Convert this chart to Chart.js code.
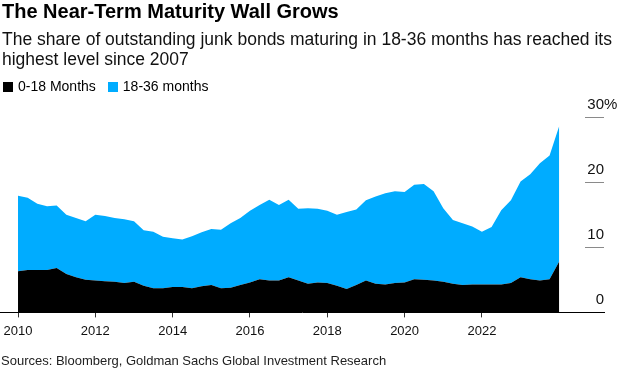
<!DOCTYPE html>
<html>
<head>
<meta charset="utf-8">
<script src="https://cdn.jsdelivr.net/npm/chart.js@4/dist/chart.umd.min.js"></script>
<style>
  html, body { margin: 0; padding: 0; background: #fff; }
  body { width: 619px; height: 370px; position: relative; overflow: hidden; font-family: "Liberation Sans", Arial, sans-serif; color: #000; }
  #wrap { position: absolute; left: 0; top: 0; width: 619px; height: 370px; }
  .txt { position: absolute; white-space: nowrap; }
  #title { left: 2px; top: 0px; font-size: 20px; font-weight: bold; }
  #sub { left: 2px; top: 29px; font-size: 17.5px; line-height: 20px; color: #111; }
  #legend { left: 3px; top: 77px; font-size: 14px; line-height: 18px; }
  .sw { display: inline-block; width: 10px; height: 10px; vertical-align: -1px; margin-right: 5px; }
  .item { display: inline-block; margin-right: 12px; }
  #foot { left: 1px; top: 353px; font-size: 13px; color: #222; }
</style>
</head>
<body>
<div id="wrap"><canvas id="c" width="619" height="370"></canvas></div>
<div class="txt" id="title">The Near-Term Maturity Wall Grows</div>
<div class="txt" id="sub">The share of outstanding junk bonds maturing in 18-36 months has reached its<br>highest level since 2007</div>
<div class="txt" id="legend"><span class="item"><span class="sw" style="background:#000"></span>0-18 Months</span><span class="item"><span class="sw" style="background:#00acff"></span>18-36 months</span></div>
<div class="txt" id="foot">Sources: Bloomberg, Goldman Sachs Global Investment Research</div>
<script>
const quarters = [
  "2010 Q1","2010 Q2","2010 Q3","2010 Q4","2011 Q1","2011 Q2","2011 Q3","2011 Q4",
  "2012 Q1","2012 Q2","2012 Q3","2012 Q4","2013 Q1","2013 Q2","2013 Q3","2013 Q4",
  "2014 Q1","2014 Q2","2014 Q3","2014 Q4","2015 Q1","2015 Q2","2015 Q3","2015 Q4",
  "2016 Q1","2016 Q2","2016 Q3","2016 Q4","2017 Q1","2017 Q2","2017 Q3","2017 Q4",
  "2018 Q1","2018 Q2","2018 Q3","2018 Q4","2019 Q1","2019 Q2","2019 Q3","2019 Q4",
  "2020 Q1","2020 Q2","2020 Q3","2020 Q4","2021 Q1","2021 Q2","2021 Q3","2021 Q4",
  "2022 Q1","2022 Q2","2022 Q3","2022 Q4","2023 Q1","2023 Q2","2023 Q3","2023 Q4",
  "2024 Q1"
];
const months0to18 = [
  6.3,6.5,6.5,6.5,6.8,5.9,5.4,5.0,4.9,4.8,
  4.7,4.5,4.7,4.1,3.7,3.7,3.9,3.9,3.7,4.0,
  4.2,3.7,3.8,4.2,4.6,5.1,4.9,4.9,5.4,4.9,
  4.4,4.6,4.5,4.1,3.6,4.2,4.9,4.4,4.3,4.5,
  4.6,5.1,5.0,4.9,4.7,4.4,4.2,4.3,4.3,4.3,
  4.3,4.5,5.4,5.1,4.9,5.1,7.8
];
const months18to36 = [
  11.6,11.1,10.2,9.8,9.6,9.1,9.1,9.0,10.1,10.0,
  9.8,9.8,9.3,8.5,8.7,7.9,7.5,7.3,8.0,8.3,
  8.6,9.0,9.9,10.3,11.0,11.4,12.4,11.6,11.9,11.0,
  11.6,11.3,11.1,10.9,11.8,11.6,12.3,13.4,14.0,14.1,
  13.9,14.5,14.7,13.7,11.3,9.8,9.5,8.9,8.1,8.8,
  11.4,12.7,14.7,16.1,18.0,19.0,20.8
];
const xTickYears = [2010, 2012, 2014, 2016, 2018, 2020, 2022];
const yTickValues = [0, 10, 20, 30];

const toX = q => { const [y, qq] = q.split(" Q"); return Number(y) + (Number(qq) - 1) / 4; };
const pts = arr => arr.map((v, i) => ({ x: toX(quarters[i]), y: v }));

const yLabelPlugin = {
  id: "yLabels",
  afterDraw(chart) {
    const ctx = chart.ctx, ys = chart.scales.y, area = chart.chartArea;
    ctx.save();
    yTickValues.forEach(v => {
      const py = Math.round(ys.getPixelForValue(v)) + 0.5;
      if (v > 0) {
        ctx.strokeStyle = "#8a8a8a"; ctx.lineWidth = 1;
        ctx.beginPath(); ctx.moveTo(area.right - 19, py); ctx.lineTo(area.right, py); ctx.stroke();
      }
      ctx.fillStyle = "#111";
      ctx.font = "15px 'Liberation Sans', Arial, sans-serif";
      ctx.textBaseline = "alphabetic";
      ctx.textAlign = "right";
      ctx.fillText(String(v), area.right, py - 9);
      if (v === 30) { ctx.textAlign = "left"; ctx.fillText("%", area.right, py - 9); }
    });
    ctx.restore();
  }
};

new Chart(document.getElementById("c"), {
  type: "line",
  data: {
    datasets: [
      { label: "0-18 Months", data: pts(months0to18), backgroundColor: "#000", borderWidth: 0, pointRadius: 0, fill: "origin", tension: 0 },
      { label: "18-36 months", data: pts(months18to36), backgroundColor: "#00acff", borderWidth: 0, pointRadius: 0, fill: "-1", tension: 0 }
    ]
  },
  options: {
    responsive: false,
    animation: false,
    events: [],
    layout: { padding: { left: 0, right: 15, top: 117, bottom: 25 } },
    plugins: { legend: { display: false }, tooltip: { enabled: false }, title: { display: false } },
    scales: {
      x: {
        type: "linear",
        min: 2009.534,
        max: 2025.158,
        afterBuildTicks: s => { s.ticks = xTickYears.map(v => ({ value: v })); },
        afterFit: s => { s.paddingLeft = 0; s.paddingRight = 0; },
        ticks: { callback: v => String(v), color: "#111", font: { family: "'Liberation Sans', Arial, sans-serif", size: 13 }, padding: 6, maxRotation: 0, autoSkip: false },
        grid: { display: true, drawOnChartArea: false, drawTicks: true, tickLength: 5, color: "#333" },
        border: { display: true, color: "#000", width: 1 }
      },
      y: {
        display: false,
        stacked: true,
        min: 0,
        max: 30,
        afterBuildTicks: s => { s.ticks = yTickValues.map(v => ({ value: v })); }
      }
    }
  },
  plugins: [yLabelPlugin]
});
</script>
</body>
</html>
